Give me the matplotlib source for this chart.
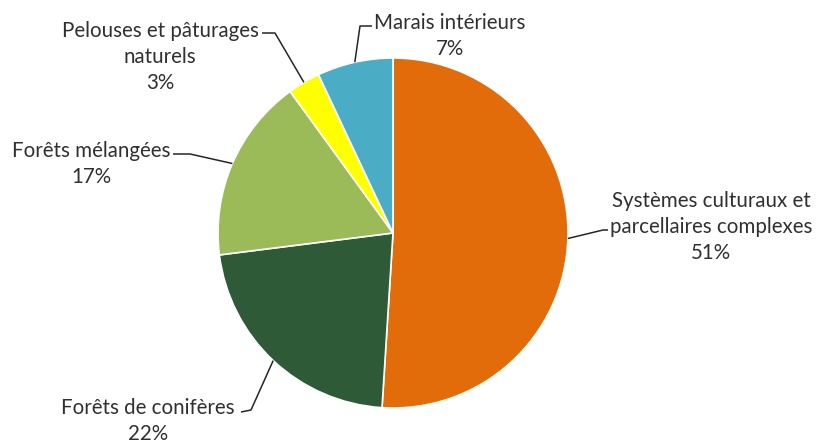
import numpy as np
import matplotlib
matplotlib.use("Agg")
import matplotlib.pyplot as plt

categories = ["Systèmes culturaux et\nparcellaires complexes", "Forêts de conifères",
              "Forêts mélangées", "Pelouses et pâturages\nnaturels", "Marais intérieurs"]
values = [51, 22, 17, 3, 7]
colors = ["#E36C0A", "#2F5A37", "#9BBB59", "#FFFF00", "#4BACC6"]

W, H = 816, 444
fig = plt.figure(figsize=(W / 100, H / 100), dpi=100)
ax = fig.add_axes([0, 0, 1, 1])

cx, cy, r = 393, H - 233, 175
wedges, _ = ax.pie(values, colors=colors, startangle=90, counterclock=False,
                   center=(cx, cy), radius=r, frame=True,
                   wedgeprops=dict(edgecolor="white", linewidth=1.2))
ax.set_xlim(0, W)
ax.set_ylim(0, H)
ax.set_aspect("equal")
ax.axis("off")

# label layout (pixel coords: text centre, elbow, end of horizontal)
layout = [
    dict(text=(711, 227), elbow=(603, 230), end=(608, 230)),
    dict(text=(148, 421), elbow=(251, 410), end=(241, 412)),
    dict(text=(91, 164), elbow=(190, 154), end=(173, 154)),
    dict(text=(160, 57), elbow=(275, 33), end=(262, 33)),
    dict(text=(450, 36), elbow=(360, 26), end=(372, 26)),
]

font = dict(family=["Lato", "DejaVu Sans"], size=14.8, color="#303030")
for w, v, lab, L in zip(wedges, values, categories, layout):
    mid = np.deg2rad((w.theta1 + w.theta2) / 2)
    sx, sy = cx + r * np.cos(mid), cy + r * np.sin(mid)
    ex, ey = L["elbow"]
    fx, fy = L["end"]
    ax.plot([sx, ex, fx], [sy, H - ey, H - fy], color="#262626", lw=1.1,
            solid_capstyle="butt")
    tx, ty = L["text"]
    ax.text(tx, H - ty, f"{lab}\n{v}%", ha="center", va="center",
            linespacing=1.4, **font)

fig.savefig("out.png", dpi=100, facecolor="white")
